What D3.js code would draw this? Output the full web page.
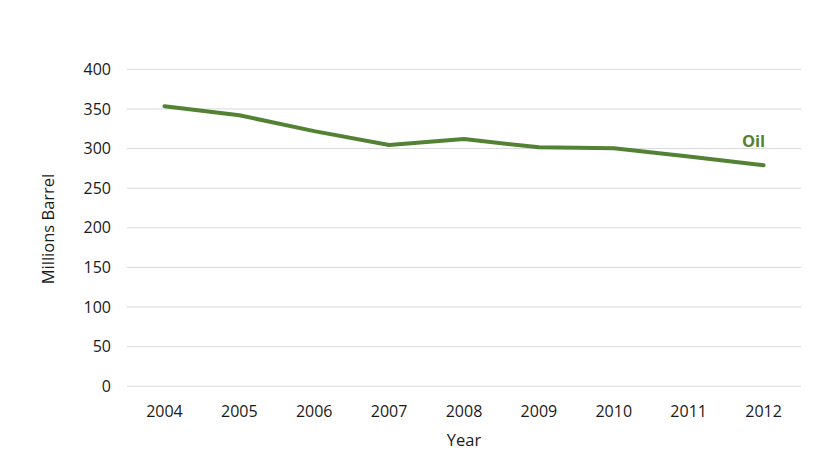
<!DOCTYPE html>
<html><head><meta charset="utf-8">
<script src="https://cdn.jsdelivr.net/npm/d3@7"></script>
<style>body{margin:0;background:#fff}text{font-family:"Open Sans","Liberation Sans",sans-serif}</style>
</head><body>
<svg id="c" width="823" height="469"></svg>
<script>
const years = ["2004","2005","2006","2007","2008","2009","2010","2011","2012"];
const oil = [353.5, 342, 322, 304.5, 312, 301.5, 300.5, 290, 279];
const yTicks = [0,50,100,150,200,250,300,350,400];
const seriesName = "Oil";

const svg = d3.select("#c");
const m = {l:127, r:801, t:69.3, b:386.3};
const x = d3.scaleBand().domain(years).range([m.l, m.r]);
const y = d3.scaleLinear().domain([0,400]).range([m.b, m.t]);
const green = "#548235";
const ink = "#1a1a1a";

svg.append("g").selectAll("line").data(yTicks).join("line")
  .attr("x1", m.l).attr("x2", m.r)
  .attr("y1", d=>y(d)).attr("y2", d=>y(d))
  .attr("stroke", "#d9d9d9").attr("stroke-width", 1);

svg.append("g").selectAll("text").data(yTicks).join("text")
  .attr("x", 111).attr("y", d=>y(d)).attr("dy","0.35em")
  .attr("text-anchor","end").attr("font-size", 16).attr("fill",ink)
  .text(d=>d);

svg.append("g").selectAll("text").data(years).join("text")
  .attr("x", d=>x(d)+x.bandwidth()/2).attr("y", 411).attr("dy","0.35em")
  .attr("text-anchor","middle").attr("font-size", 16).attr("fill",ink)
  .text(d=>d);

svg.append("text").attr("x", 464).attr("y", 440).attr("dy","0.35em")
  .attr("text-anchor","middle").attr("font-size", 16.5).attr("fill",ink).text("Year");
svg.append("text").attr("transform","translate(48,229) rotate(-90)").attr("dy","0.35em")
  .attr("text-anchor","middle").attr("font-size", 16.5).attr("fill",ink).text("Millions Barrel");

const line = d3.line().x((d,i)=>x(years[i])+x.bandwidth()/2).y(d=>y(d));
svg.append("path").datum(oil).attr("d", line).attr("fill","none")
  .attr("stroke", green).attr("stroke-width", 4).attr("stroke-linecap","round").attr("stroke-linejoin","round");

svg.append("text").attr("x", x(years[8])+x.bandwidth()/2-10).attr("y", 141).attr("dy","0.35em")
  .attr("text-anchor","middle").attr("font-size", 16.5).attr("font-weight","bold").attr("fill", green).text(seriesName);
</script>
</body></html>
